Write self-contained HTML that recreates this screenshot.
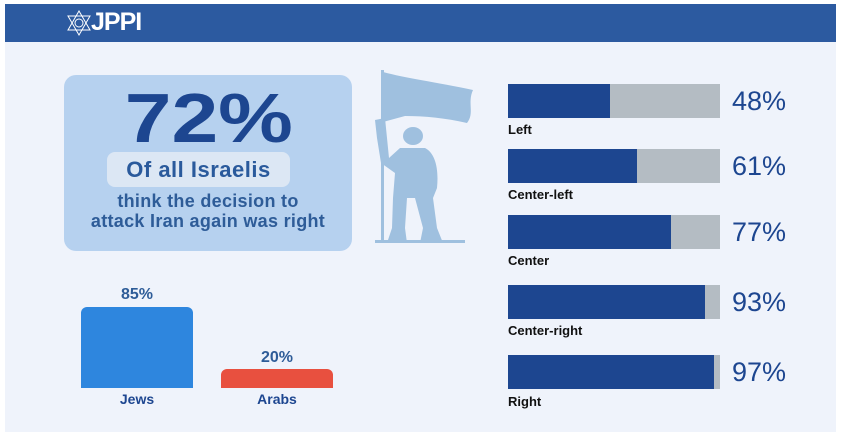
<!DOCTYPE html>
<html><head><meta charset="utf-8"><style>
body{margin:0;width:841px;height:436px;background:#fff;position:relative;overflow:hidden;font-family:"Liberation Sans",sans-serif}
.a{position:absolute}
.bg{left:5px;top:4px;width:831px;height:428px;background:#eff3fb}
.hd{left:5px;top:4px;width:831px;height:38px;background:#2c5aa0}
.card{left:64px;top:75px;width:288px;height:176px;background:#b6d1ef;border-radius:12px}
.big{left:64px;width:288px;top:78px;text-align:center;font-size:70px;font-weight:bold;color:#1d4690;transform:scaleX(1.2);transform-origin:140px 0}
.pill{left:107px;top:152px;width:183px;height:35px;background:#dce7f4;border-radius:8px;text-align:center;line-height:35px;font-size:22px;font-weight:bold;color:#2a5a9c;letter-spacing:0.5px}
.sub{left:64px;width:288px;top:191px;text-align:center;font-size:18px;font-weight:bold;color:#2e5c98;line-height:20px;letter-spacing:0.3px}
.bar{left:508px;width:212px;height:34px;background:#b4bcc3}
.bar div{height:100%;background:#1d4690}
.lb{left:508px;font-size:13px;font-weight:bold;color:#111}
.pc{left:732px;font-size:27px;color:#1d4690}
.vl{font-size:16px;font-weight:bold;color:#2e5c98;text-align:center;width:112px}
</style></head><body>
<div class="a bg"></div>
<div class="a hd"></div>
<svg class="a" style="left:66px;top:10px" width="26" height="26" viewBox="0 0 26 26" fill="none" stroke="#fff" stroke-width="1"><polygon points="13,1 24,20 2,20"/><polygon points="13,25 24,6 2,6"/><circle cx="13" cy="13" r="4"/></svg>
<div class="a" style="left:91px;top:8px;color:#fff;font-weight:bold;font-size:25px;letter-spacing:-1px">JPPI</div>
<div class="a card"></div>
<div class="a big">72%</div>
<div class="a pill">Of all Israelis</div>
<div class="a sub">think the decision to<br>attack Iran again was right</div>
<svg class="a" style="left:375px;top:68px" width="110" height="180" viewBox="0 0 110 180" fill="#9fc0df">
<rect x="6" y="2" width="3" height="172"/>
<path d="M8,4 C30,10 60,14 98,22 C92,35 100,45 92,55 C70,50 50,48 30,48 L8,54 Z"/>
<ellipse cx="38" cy="68" rx="10" ry="9"/>
<path d="M0,52 L10,50 L14,90 L25,80 L50,80 C60,85 64,100 62,120 L58,130 L62,160 L68,175 L45,175 L48,160 L40,130 L32,130 L30,160 L32,175 L12,175 L17,160 L18,130 L20,105 L6,95 L2,70 Z"/>
<rect x="0" y="172" width="90" height="3"/>
</svg>
<div class="a vl" style="left:81px;top:286px">85%</div>
<div class="a" style="left:81px;top:307px;width:112px;height:81px;background:#2e86de;border-radius:6px 6px 0 0"></div>
<div class="a vl" style="left:221px;top:349px">20%</div>
<div class="a" style="left:221px;top:369px;width:112px;height:19px;background:#e8503f;border-radius:6px 6px 0 0"></div>
<div class="a vl" style="left:81px;top:391px;font-size:14px;color:#1d4690">Jews</div>
<div class="a vl" style="left:221px;top:391px;font-size:14px;color:#1d4690">Arabs</div>

<div class="a bar" style="top:84px"><div style="width:48%"></div></div>
<div class="a lb" style="top:122px">Left</div>
<div class="a pc" style="top:86px">48%</div>
<div class="a bar" style="top:149px"><div style="width:61%"></div></div>
<div class="a lb" style="top:187px">Center-left</div>
<div class="a pc" style="top:151px">61%</div>
<div class="a bar" style="top:215px"><div style="width:77%"></div></div>
<div class="a lb" style="top:253px">Center</div>
<div class="a pc" style="top:217px">77%</div>
<div class="a bar" style="top:285px"><div style="width:93%"></div></div>
<div class="a lb" style="top:323px">Center-right</div>
<div class="a pc" style="top:287px">93%</div>
<div class="a bar" style="top:355px"><div style="width:97%"></div></div>
<div class="a lb" style="top:394px">Right</div>
<div class="a pc" style="top:357px">97%</div>
</body></html>
